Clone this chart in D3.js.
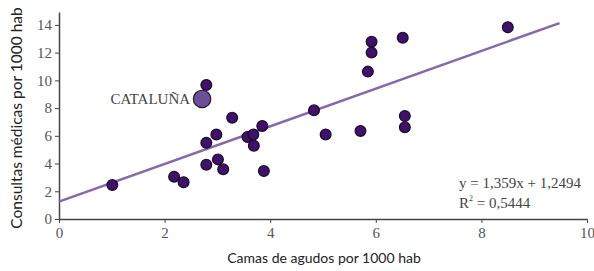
<!DOCTYPE html>
<html>
<head>
<meta charset="utf-8">
<script src="https://cdn.jsdelivr.net/npm/d3@7"></script>
<style>
  body { margin: 0; background: #fff; }
  .tick text { font-family: "Liberation Serif", "DejaVu Serif", serif; font-size: 15px; fill: #555; }
  .axis path, .axis line { stroke: #444; }
  .title { font-family: Lato, "Open Sans", sans-serif; fill: #222; }
  .serif { font-family: "Liberation Serif", "DejaVu Serif", serif; font-size: 15px; fill: #444; }
</style>
</head>
<body>
<svg width="594" height="271"></svg>
<script>
// camas de agudos por 1000 hab (x) y consultas por 1000 hab (y)
const camas = [1.01, 2.18, 2.36, 2.79, 2.79, 2.79, 2.98, 3.01, 3.11, 3.28, 3.57, 3.68, 3.69, 3.85, 3.88,
               4.83, 5.05, 5.71, 5.85, 5.92, 5.92, 6.51, 6.55, 6.55, 8.50];
const consultas = [2.45, 3.05, 2.65, 9.67, 5.50, 3.92, 6.10, 4.30, 3.58, 7.31, 5.92, 6.10, 5.29, 6.71, 3.46,
                   7.84, 6.10, 6.35, 10.63, 12.00, 12.79, 13.08, 7.43, 6.61, 13.83];
const cataluna = { x: 2.71, y: 8.66 };
const slope = 1.359, intercept = 1.2494;
const lineX = [0, 9.48];
const xTicks = [0, 2, 4, 6, 8, 10];
const yTicks = [0, 2, 4, 6, 8, 10, 12, 14];

const svg = d3.select("svg");
const mLeft = 59, mRight = 587, mTop = 12, mBottom = 219;

const x = d3.scaleLinear().domain([0, 10]).range([mLeft, mRight]);
const y = d3.scaleLinear().domain([0, 14.93]).range([mBottom, mTop]);

svg.append("g")
    .attr("class", "axis")
    .attr("transform", `translate(0,${mBottom})`)
    .call(d3.axisBottom(x).tickValues(xTicks).tickSize(4).tickSizeOuter(0).tickPadding(4));

svg.append("g")
    .attr("class", "axis")
    .attr("transform", `translate(${mLeft},0)`)
    .call(d3.axisLeft(y).tickValues(yTicks).tickSize(4).tickSizeOuter(0).tickPadding(3));

svg.selectAll(".axis path").attr("stroke-width", 1.5);

// regression line
svg.append("line")
    .attr("x1", x(lineX[0])).attr("y1", y(intercept + slope * lineX[0]))
    .attr("x2", x(lineX[1])).attr("y2", y(intercept + slope * lineX[1]))
    .attr("stroke", "#8568ad")
    .attr("stroke-width", 2.5);

// points
svg.selectAll("circle.pt")
    .data(camas.map((c, i) => [c, consultas[i]]))
    .enter().append("circle")
    .attr("class", "pt")
    .attr("cx", d => x(d[0]))
    .attr("cy", d => y(d[1]))
    .attr("r", 5.4)
    .attr("fill", "#3f1168")
    .attr("stroke", "#1a0a2a")
    .attr("stroke-width", 1.2);

svg.append("circle")
    .attr("cx", x(cataluna.x))
    .attr("cy", y(cataluna.y))
    .attr("r", 8.7)
    .attr("fill", "#6d4f97")
    .attr("stroke", "#22132f")
    .attr("stroke-width", 1.2);

svg.append("text")
    .attr("class", "serif")
    .attr("x", x(cataluna.x) - 12)
    .attr("y", y(cataluna.y) + 5)
    .attr("text-anchor", "end")
    .text("CATALUÑA");

// equation
svg.append("text").attr("class", "serif").attr("x", 459).attr("y", 188)
    .text("y = 1,359x + 1,2494");
const r2 = svg.append("text").attr("class", "serif").attr("x", 459).attr("y", 208);
r2.append("tspan").text("R");
r2.append("tspan").attr("font-size", "8px").attr("dy", -7).text("2");
r2.append("tspan").attr("dy", 7).text(" = 0,5444");

// axis titles
svg.append("text")
    .attr("class", "title")
    .attr("font-size", "14px")
    .attr("x", 324).attr("y", 263)
    .attr("text-anchor", "middle")
    .text("Camas de agudos por 1000 hab");

svg.append("text")
    .attr("class", "title")
    .attr("font-size", "15.5px")
    .attr("transform", "translate(22,118) rotate(-90)")
    .attr("text-anchor", "middle")
    .text("Consultas médicas por 1000 hab");
</script>
</body>
</html>
